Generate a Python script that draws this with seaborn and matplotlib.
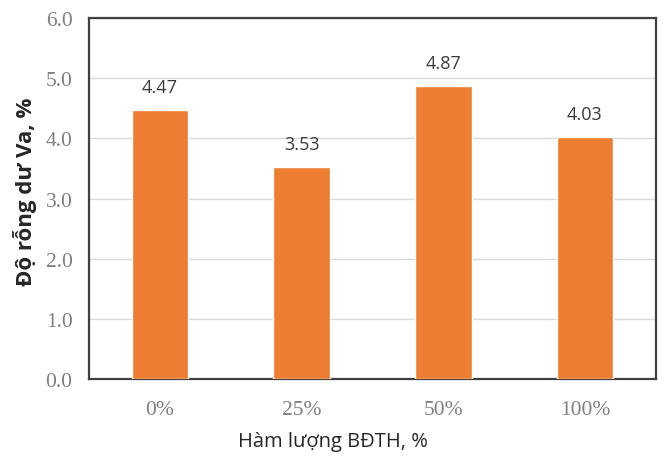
import matplotlib
matplotlib.use("Agg")
import matplotlib.pyplot as plt
import seaborn as sns
import pandas as pd

categories = ["0%", "25%", "50%", "100%"]
values = [4.47, 3.53, 4.87, 4.03]
yticks = [0.0, 1.0, 2.0, 3.0, 4.0, 5.0, 6.0]

df = pd.DataFrame({"group": categories, "value": values})

sns.set_theme(style="white")
plt.rcParams["font.family"] = ["Open Sans", "DejaVu Sans"]

serif = ["Liberation Serif", "DejaVu Serif"]

fig = plt.figure(figsize=(6.65, 4.64), dpi=100)
ax = fig.add_axes([0.134, 0.181, 0.852, 0.778])

sns.barplot(data=df, x="group", y="value", color="#ED7D31", saturation=1,
            width=0.4, ax=ax, zorder=3)

ax.set_ylim(0, 6.0)
ax.set_yticks(yticks)
ax.set_yticklabels([f"{t:.1f}" for t in yticks], family=serif,
                   fontsize=15.5, color="#7f7f7f")
ax.set_xticks(range(len(categories)))
ax.set_xticklabels(categories, family=serif, fontsize=15.5, color="#7f7f7f")
ax.tick_params(axis="x", length=0, pad=15)
ax.tick_params(axis="y", length=0, pad=12)

ax.yaxis.grid(True, color="#d9d9d9", linewidth=1.0, zorder=0)
ax.set_axisbelow(True)

for side in ["left", "right", "top", "bottom"]:
    ax.spines[side].set_visible(True)
    ax.spines[side].set_color("#404040")
    ax.spines[side].set_linewidth(1.6)

for i, v in enumerate(values):
    ax.annotate(f"{v:.2f}", (i, v), xytext=(0, 10), textcoords="offset points",
                ha="center", va="bottom", fontsize=13, color="#3a3a3a")

ax.set_xlabel("Hàm lượng BĐTH, %", fontsize=14.5, color="#262626")
ax.xaxis.set_label_coords(0.43, -0.145)
ax.set_ylabel("Độ rỗng dư Va, %", fontsize=16, fontweight="bold",
              color="#262626")
ax.yaxis.set_label_coords(-0.092, 0.52)

fig.savefig("out.png", dpi=100)
